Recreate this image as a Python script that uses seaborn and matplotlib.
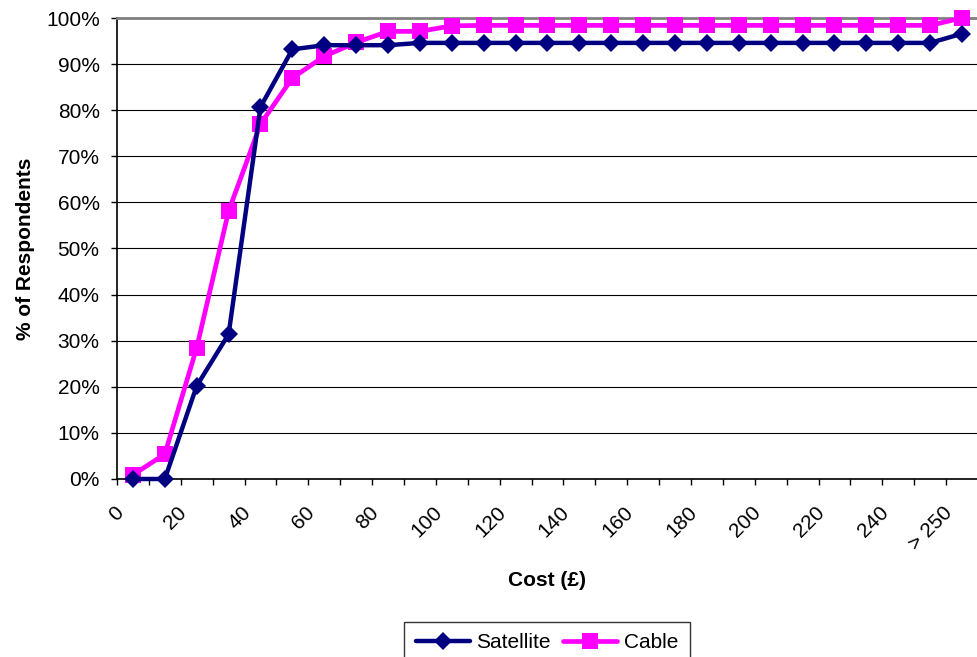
import numpy as np
import pandas as pd
import seaborn as sns
import matplotlib
matplotlib.use('Agg')
from matplotlib import pyplot as plt
from matplotlib.ticker import FuncFormatter
import matplotlib.transforms as mtransforms

# categories: 0,10,...,250 and "> 250"
costs = [str(c) for c in range(0, 260, 10)] + ['> 250']
satellite = [0, 0, 20.2, 31.4, 80.7, 93.2, 94.1, 94.1, 94.1, 94.6,
             94.6, 94.6, 94.6, 94.6, 94.6, 94.6, 94.6, 94.6, 94.6, 94.6,
             94.6, 94.6, 94.6, 94.6, 94.6, 94.6, 96.6]
cable = [0.9, 5.4, 28.5, 58.1, 77.0, 87.0, 91.7, 94.7, 97.1, 97.1,
         98.3, 98.4, 98.4, 98.4, 98.4, 98.4, 98.4, 98.4, 98.4, 98.4,
         98.4, 98.4, 98.4, 98.4, 98.4, 98.4, 100]

df = pd.DataFrame({'Cost': costs, 'Satellite': satellite, 'Cable': cable})

sns.set_style('white')
plt.rcParams['font.family'] = ['Liberation Sans', 'DejaVu Sans']
plt.rcParams['text.color'] = 'black'
plt.rcParams['xtick.color'] = 'black'
plt.rcParams['ytick.color'] = 'black'
plt.rcParams['axes.labelcolor'] = 'black'
fs = 15

fig = plt.figure(figsize=(9.78, 6.57), dpi=100)
ax = fig.add_axes([117/978, 178/657, (978-117)/978, 461/657])

sns.lineplot(data=df, x='Cost', y='Satellite', sort=False, ax=ax, color='#000080',
             lw=3.2, marker='D', markersize=9.5, markeredgewidth=0, label='Satellite',
             clip_on=False, zorder=4)
sns.lineplot(data=df, x='Cost', y='Cable', sort=False, ax=ax, color='#FF00FF',
             lw=3.4, marker='s', markersize=12, markeredgewidth=0, label='Cable',
             clip_on=False, zorder=3)

ax.set_xlim(-0.5, len(costs) - 0.5)
ax.set_ylim(0, 100)
ax.set_yticks(range(0, 101, 10))
ax.yaxis.set_major_formatter(FuncFormatter(lambda v, p: '%d%%' % v))
ax.yaxis.grid(True, color='black', lw=0.8)
ax.set_axisbelow(True)

ax.set_xticks(range(0, len(costs), 2))
ax.set_xticklabels(costs[::2], rotation=45, ha='right', va='top', fontsize=fs)
ax.set_xticks(np.arange(-0.5, len(costs), 1), minor=True)
ax.tick_params(axis='x', which='major', length=0, pad=17)
ax.tick_params(axis='x', which='minor', length=4.5, width=1, direction='out', color='black', bottom=True)
ax.tick_params(axis='y', which='major', length=4.5, width=1, direction='out', color='black',
               left=True, labelsize=fs, pad=8)
offset = mtransforms.ScaledTranslation(-6/100, 0, fig.dpi_scale_trans)
for lbl in ax.get_xticklabels():
    lbl.set_transform(lbl.get_transform() + offset)

for s in ['left', 'bottom']:
    ax.spines[s].set_color('black')
    ax.spines[s].set_linewidth(1.2)
ax.spines['top'].set_color('#808080')
ax.spines['top'].set_linewidth(2)
ax.spines['right'].set_color('#c8c8c8')
ax.spines['right'].set_linewidth(1)

ax.set_ylabel('% of Respondents', fontsize=fs, fontweight='bold', labelpad=8)
ax.set_xlabel('Cost (£)', fontsize=fs, fontweight='bold')
ax.xaxis.set_label_coords(0.5, -0.2)

leg = ax.legend(loc='upper center', bbox_to_anchor=(547/978, 35/657),
                bbox_transform=fig.transFigure, ncol=2, fontsize=fs, frameon=True,
                fancybox=False, handlelength=2.6, handletextpad=0.3, columnspacing=0.6,
                borderpad=0.55, borderaxespad=0)
leg.get_frame().set_edgecolor('black')
leg.get_frame().set_linewidth(1)

fig.savefig('out.png', dpi=100)
